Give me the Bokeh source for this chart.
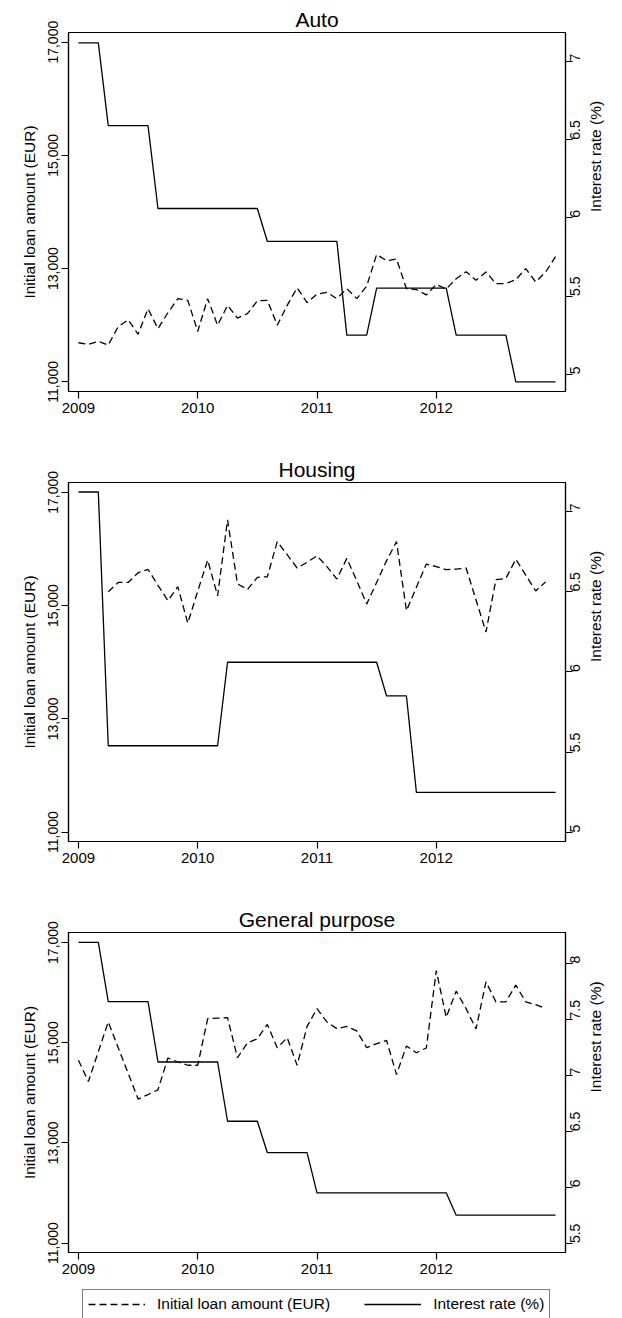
import math
from bokeh.plotting import figure
from bokeh.models import (Range1d, LinearAxis, FixedTicker, NumeralTickFormatter,
                          Legend, LegendItem, ColumnDataSource)
from bokeh.layouts import column
from bokeh.embed import file_html
from bokeh.resources import INLINE

FONT = "Liberation Sans"

# ---- data (monthly, 2009m1 .. 2013m1) ----
month_index = list(range(49))
x_years = [2009 + k / 12 for k in month_index]
year_ticks = [2009, 2010, 2011, 2012]

auto_loan = [11690, 11660, 11715, 11650, 11975, 12095, 11840, 12290, 11940, 12220,
             12470, 12440, 11890, 12470, 12000, 12350, 12125, 12205, 12430, 12440,
             12000, 12350, 12660, 12400, 12550, 12580, 12470, 12645, 12470, 12690,
             13250, 13140, 13170, 12645, 12630, 12535, 12720, 12640, 12822, 12945,
             12795, 12940, 12735, 12735, 12805, 13000, 12765, 12940, 13210]
auto_rate = [7.12, 7.12, 7.12, 6.59, 6.59, 6.59, 6.59, 6.59, 6.06, 6.06,
             6.06, 6.06, 6.06, 6.06, 6.06, 6.06, 6.06, 6.06, 6.06, 5.85,
             5.85, 5.85, 5.85, 5.85, 5.85, 5.85, 5.85, 5.25, 5.25, 5.25,
             5.55, 5.55, 5.55, 5.55, 5.55, 5.55, 5.55, 5.55, 5.25, 5.25,
             5.25, 5.25, 5.25, 5.25, 4.95, 4.95, 4.95, 4.95, 4.95]

housing_loan = [None, None, None, 15245, 15410, 15410, 15580, 15640, 15360, 15090,
                15335, 14690, 15255, 15805, 15175, 16515, 15385, 15285, 15500, 15510,
                16130, 15900, 15665, 15765, 15880, 15690, 15470, 15835, 15440, 15030,
                15410, 15795, 16130, 14910, 15325, 15735, 15690, 15635, 15645, 15665,
                15100, 14535, 15460, 15480, 15820, 15540, 15260, 15420, None]
housing_rate = [7.12, 7.12, 7.12, 5.54, 5.54, 5.54, 5.54, 5.54, 5.54, 5.54,
                5.54, 5.54, 5.54, 5.54, 5.54, 6.06, 6.06, 6.06, 6.06, 6.06,
                6.06, 6.06, 6.06, 6.06, 6.06, 6.06, 6.06, 6.06, 6.06, 6.06,
                6.06, 5.85, 5.85, 5.85, 5.25, 5.25, 5.25, 5.25, 5.25, 5.25,
                5.25, 5.25, 5.25, 5.25, 5.25, 5.25, 5.25, 5.25, 5.25]

general_loan = [14650, 14225, 14820, 15415, 14900, 14390, 13875, 13965, 14060, 14695,
                14615, 14550, 14550, 15480, 15490, 15500, 14700, 14995, 15080, 15365,
                14900, 15100, 14550, 15325, 15680, 15415, 15280, 15325, 15235, 14900,
                14980, 15045, 14365, 14935, 14800, 14895, 16440, 15505, 16030, 15680,
                15275, 16215, 15815, 15815, 16150, 15815, 15760, 15680, None]
general_rate = [8.19, 8.19, 8.19, 7.66, 7.66, 7.66, 7.66, 7.66, 7.12, 7.12,
                7.12, 7.12, 7.12, 7.12, 7.12, 6.59, 6.59, 6.59, 6.59, 6.31,
                6.31, 6.31, 6.31, 6.31, 5.95, 5.95, 5.95, 5.95, 5.95, 5.95,
                5.95, 5.95, 5.95, 5.95, 5.95, 5.95, 5.95, 5.95, 5.75, 5.75,
                5.75, 5.75, 5.75, 5.75, 5.75, 5.75, 5.75, 5.75, 5.75]

loan_ticks = [11000, 13000, 15000, 17000]
auto_rate_ticks = [5, 5.5, 6, 6.5, 7]
housing_rate_ticks = [5, 5.5, 6, 6.5, 7]
general_rate_ticks = [5.5, 6, 6.5, 7, 7.5, 8]

LOAN_LABEL = "Initial loan amount (EUR)"
RATE_LABEL = "Interest rate (%)"

DASH = "7 4"
LW = 1.3


def nan_list(vals):
    return [float("nan") if v is None else v for v in vals]


def style_axis(ax, size="15px"):
    ax.axis_line_color = "black"
    ax.axis_line_width = 1.2
    ax.major_tick_line_color = "black"
    ax.major_tick_line_width = 1.2
    ax.major_tick_out = 7
    ax.major_tick_in = 0
    ax.minor_tick_line_color = None
    ax.major_label_text_font = FONT
    ax.major_label_text_font_size = size
    ax.major_label_text_color = "black"
    ax.axis_label_text_font = FONT
    ax.axis_label_text_font_size = "15.5px"
    ax.axis_label_text_font_style = "normal"
    ax.axis_label_text_color = "black"


def make_panel(title, loan, rate, left_rng, right_rng, rate_ticks, height, top, bottom):
    p = figure(width=622, height=height, output_backend="svg", toolbar_location=None,
               x_range=Range1d(2009 - 1 / 12, 2013 + 1 / 12),
               y_range=Range1d(*left_rng),
               min_border_left=68, min_border_right=57,
               min_border_top=top, min_border_bottom=bottom)
    p.extra_y_ranges = {"rate": Range1d(*right_rng)}
    p.background_fill_color = "white"
    p.border_fill_color = "white"
    p.outline_line_color = "black"
    p.outline_line_width = 1.2
    p.xgrid.visible = False
    p.ygrid.visible = False

    p.title.text = title
    p.title.align = "center"
    p.title.text_font = FONT
    p.title.text_font_size = "21px"
    p.title.text_font_style = "normal"
    p.title.text_color = "black"
    p.title.standoff = 4

    src = ColumnDataSource(dict(x=x_years, loan=nan_list(loan), rate=rate))
    p.line("x", "loan", source=src, line_color="black", line_width=LW, line_dash=DASH)
    p.line("x", "rate", source=src, y_range_name="rate", line_color="black", line_width=LW)

    xa = p.xaxis[0]
    style_axis(xa)
    xa.ticker = FixedTicker(ticks=year_ticks)
    xa.major_label_standoff = 4

    ya = p.yaxis[0]
    style_axis(ya, "14px")
    ya.ticker = FixedTicker(ticks=loan_ticks)
    ya.formatter = NumeralTickFormatter(format="0,0")
    ya.major_label_orientation = "parallel"
    ya.major_label_standoff = 3
    ya.axis_label = LOAN_LABEL
    ya.axis_label_standoff = 8

    ra = LinearAxis(y_range_name="rate")
    style_axis(ra, "14px")
    ra.ticker = FixedTicker(ticks=rate_ticks)
    ra.formatter = NumeralTickFormatter(format="0.[0]")
    ra.major_label_orientation = math.pi / 2
    ra.major_label_standoff = 3
    ra.axis_label = RATE_LABEL
    ra.axis_label_standoff = 7
    ra.axis_label_orientation = math.pi / 2
    p.add_layout(ra, "right")
    return p


p1 = make_panel("Auto", auto_loan, auto_rate, (10829, 17171), (4.889, 7.186),
                auto_rate_ticks, 440, 32, 49)
p2 = make_panel("Housing", housing_loan, housing_rate, (10835, 17175), (4.944, 7.179),
                housing_rate_ticks, 450, 42, 49)
p3 = make_panel("General purpose", general_loan, general_rate, (10812, 17200),
                (5.416, 8.278), general_rate_ticks, 395, 42, 33)

# ---- legend strip below the panels (series lie outside its visible range) ----
pl = figure(width=622, height=33, output_backend="svg", toolbar_location=None,
            x_range=Range1d(0, 1), y_range=Range1d(0, 1),
            x_axis_location=None, y_axis_location=None,
            min_border_left=0, min_border_right=0, min_border_top=0, min_border_bottom=0)
pl.outline_line_color = None
pl.xgrid.visible = False
pl.ygrid.visible = False
pl.background_fill_color = "white"
pl.border_fill_color = "white"
lg_src = ColumnDataSource(dict(x=x_years, loan=nan_list(general_loan), rate=general_rate))
r_loan = pl.line("x", "loan", source=lg_src, line_color="black", line_width=LW,
                 line_dash=DASH)
r_rate = pl.line("x", "rate", source=lg_src, line_color="black", line_width=LW)

legend = Legend(items=[LegendItem(label=LOAN_LABEL, renderers=[r_loan]),
                       LegendItem(label=RATE_LABEL, renderers=[r_rate])],
                orientation="horizontal", location=(14, -1),
                label_text_font=FONT, label_text_font_size="15.5px",
                label_text_color="black", glyph_width=57, glyph_height=18,
                label_height=18, label_standoff=12, spacing=34, padding=5, margin=0,
                border_line_color="black", border_line_width=1.2,
                background_fill_color="white", background_fill_alpha=1.0)
pl.add_layout(legend, "center")

layout = column(p1, p2, p3, pl, spacing=0)

with open("out.html", "w") as f:
    f.write(file_html(layout, INLINE))
